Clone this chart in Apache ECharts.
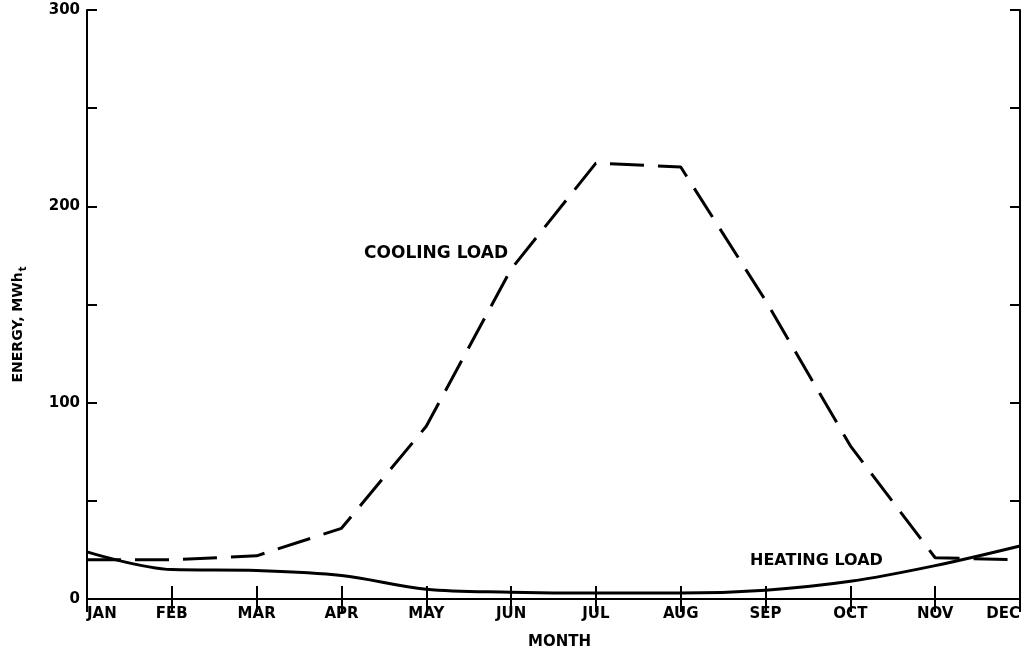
<!DOCTYPE html>
<html>
<head>
<meta charset="utf-8">
<script src="https://cdn.jsdelivr.net/npm/echarts@6/dist/echarts.min.js"></script>
<style>html,body{margin:0;padding:0;background:#fff}#c{width:1029px;height:655px}</style>
</head>
<body>
<div id="c"></div>
<script>
const months = ['JAN','FEB','MAR','APR','MAY','JUN','JUL','AUG','SEP','OCT','NOV','DEC'];
const coolingLoad = [20, 20, 22, 36, 88, 168, 222, 220, 152, 78, 21, 20];
const heatingLoad = [24, 15, 14.5, 12, 5, 3.5, 3, 3, 4.5, 9, 17, 27];
const yTicks = [0, 100, 200, 300];

const FONT = '"DejaVu Sans"';
const chart = echarts.init(document.getElementById('c'));
const axisLine = {show: true, lineStyle: {color: '#000', width: 2}};
const tickStyle = {color: '#000', width: 2};
chart.setOption({
  animation: false,
  backgroundColor: '#fff',
  grid: {left: 87, right: 9, top: 10, bottom: 56, containLabel: false},
  xAxis: [{
    type: 'category', data: months, boundaryGap: false, position: 'bottom',
    axisLine: axisLine,
    axisTick: {show: true, inside: true, length: 13, lineStyle: tickStyle, alignWithLabel: true},
    axisLabel: {color: '#000', fontFamily: FONT, fontWeight: 'bold', fontSize: 15, margin: 8,
      alignMinLabel: 'left', alignMaxLabel: 'right', interval: 0},
    splitLine: {show: false},
    name: 'MONTH', nameLocation: 'middle', nameGap: 36,
    nameTextStyle: {color: '#000', fontFamily: FONT, fontWeight: 'bold', fontSize: 15, padding: [0, 0, 0, 12]}
  }, {
    type: 'category', data: months, boundaryGap: false, position: 'top',
    axisLine: axisLine,
    axisTick: {show: true, inside: true, length: 13, lineStyle: tickStyle},
    axisLabel: {show: false}, splitLine: {show: false}
  }],
  yAxis: [{
    type: 'value', min: 0, max: 300, interval: 50, position: 'left',
    axisLine: axisLine,
    axisTick: {show: true, inside: true, length: 10, lineStyle: tickStyle},
    axisLabel: {color: '#000', fontFamily: FONT, fontWeight: 'bold', fontSize: 15, margin: 7,
      formatter: v => yTicks.includes(v) ? String(v) : ''},
    splitLine: {show: false},
    name: 'ENERGY, MWh{sub|t}', nameLocation: 'middle', nameGap: 59, nameRotate: 90,
    nameTextStyle: {color: '#000', fontFamily: FONT, fontWeight: 'bold', fontSize: 14, padding: [0, 40, 0, 0],
      rich: {sub: {fontFamily: FONT, fontWeight: 'bold', fontSize: 10, verticalAlign: 'bottom', padding: [10, 0, 0, 1]}}}
  }, {
    type: 'value', min: 0, max: 300, interval: 50, position: 'right',
    axisLine: axisLine,
    axisTick: {show: true, inside: true, length: 10, lineStyle: tickStyle},
    axisLabel: {show: false}, splitLine: {show: false}
  }],
  series: [{
    name: 'COOLING LOAD', type: 'line', data: coolingLoad, symbol: 'none',
    lineStyle: {color: '#000', width: 3, type: [34, 14]}
  }, {
    name: 'HEATING LOAD', type: 'line', data: heatingLoad, symbol: 'none', smooth: 0.35,
    lineStyle: {color: '#000', width: 3}
  }],
  graphic: [
    {type: 'text', left: 364, top: 245, style: {text: 'COOLING LOAD', fill: '#000', font: 'bold 17px ' + FONT}},
    {type: 'text', left: 750, top: 553, style: {text: 'HEATING LOAD', fill: '#000', font: 'bold 16px ' + FONT}}
  ]
});
</script>
</body>
</html>
